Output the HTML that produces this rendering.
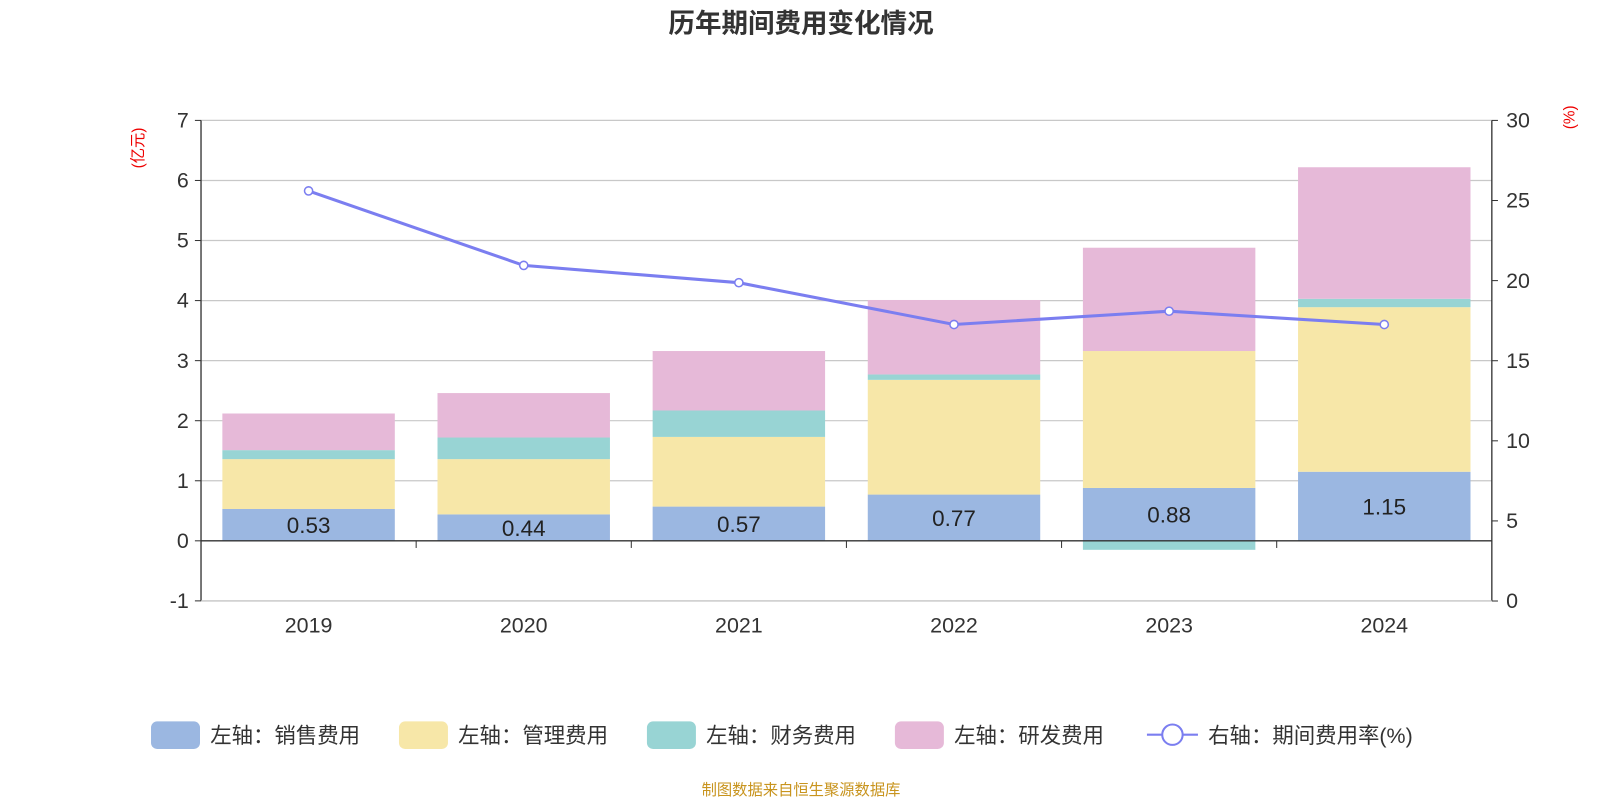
<!DOCTYPE html>
<html><head><meta charset="utf-8"><style>
body{margin:0;background:#fff;font-family:"Liberation Sans","Noto Sans CJK SC",sans-serif;}
svg{display:block;}
svg text{font-family:"Liberation Sans","Noto Sans CJK SC",sans-serif;}
</style></head><body>
<svg id="chart" width="1600" height="800" viewBox="0 0 1568 784" xmlns="http://www.w3.org/2000/svg">
<text x="785" y="32" text-anchor="middle" font-size="26" font-weight="bold" fill="#333">历年期间费用变化情况</text>
<text transform="translate(140,145) rotate(-90)" text-anchor="middle" font-size="15" fill="#e00">(亿元)</text>
<text transform="translate(1543,115) rotate(-90)" text-anchor="middle" font-size="15" fill="#e00">(%)</text>
<g id="grid"></g><g id="bars"></g><g id="axes"></g><g id="line"></g>
<g font-size="21" fill="#333">
<rect x="148" y="707" width="48" height="27" rx="6" fill="#9bb7e1"/><text x="206" y="728">左轴：销售费用</text>
<rect x="391" y="707" width="48" height="27" rx="6" fill="#f7e7a8"/><text x="449" y="728">左轴：管理费用</text>
<rect x="634" y="707" width="48" height="27" rx="6" fill="#98d4d4"/><text x="692" y="728">左轴：财务费用</text>
<rect x="877" y="707" width="48" height="27" rx="6" fill="#e6b9d8"/><text x="935" y="728">左轴：研发费用</text>
<line x1="1124" y1="720" x2="1174" y2="720" stroke="#7b7ef0" stroke-width="2"/><circle cx="1149" cy="720" r="10" fill="#fff" stroke="#7b7ef0" stroke-width="2"/><text x="1184" y="728">右轴：期间费用率(%)</text>
</g>
<text x="785" y="779" text-anchor="middle" font-size="15" fill="#c8941e">制图数据来自恒生聚源数据库</text>
</svg>
<script>
const years=["2019","2020","2021","2022","2023","2024"];
const sales=[0.53,0.44,0.57,0.77,0.88,1.15];
const admin=[0.83,0.92,1.16,1.91,2.28,2.74];
const finance=[0.15,0.36,0.44,0.09,-0.15,0.14];
const rd=[0.61,0.74,0.99,1.24,1.72,2.19];
const rate=[25.6,20.95,19.87,17.26,18.09,17.26];
const leftTicks=[-1,0,1,2,3,4,5,6,7];
const rightTicks=[0,5,10,15,20,25,30];
const NS="http://www.w3.org/2000/svg";
const X0=197,X1=1462,YT=118,YB=589;
const yL=v=>530-(v)*(530-YT)/7;
const yR=v=>YB-v*(YB-YT)/30;
const cw=(X1-X0)/years.length;
const xc=i=>X0+cw*(i+0.5);
function mk(tag,attrs,parent){const e=document.createElementNS(NS,tag);for(const k in attrs)e.setAttribute(k,attrs[k]);document.getElementById(parent).appendChild(e);return e;}
leftTicks.forEach(t=>{
 if(t!==0){const g=mk('line',{x1:X0,x2:X1,y1:yL(t),y2:yL(t),stroke:'#c8c8c8','stroke-width':1.2},'grid');
 
 }
 const tk=mk('line',{x1:X0-6,x2:X0,y1:yL(t),y2:yL(t),stroke:'#333'},'axes');
 
 
 const tx=mk('text',{x:X0-12,y:yL(t)+7,'text-anchor':'end','font-size':21,fill:'#333'},'axes');tx.textContent=t;
 
 
});
rightTicks.forEach(t=>{
 const tk=mk('line',{x1:X1,x2:X1+6,y1:yR(t),y2:yR(t),stroke:'#333'},'axes');
 
 
 const tx=mk('text',{x:X1+14,y:yR(t)+7,'font-size':21,fill:'#333'},'axes');tx.textContent=t;
 
 
});
const bw=169;
const series=[[sales,'#9bb7e1','sales'],[admin,'#f7e7a8','admin'],[finance,'#98d4d4','finance'],[rd,'#e6b9d8','rd']];
years.forEach((yr,i)=>{
 let pos=0,neg=0;
 series.forEach(([arr,col,nm])=>{
  const v=arr[i];let a,b;
  if(v>=0){a=pos;b=pos+v;pos=b;}else{a=neg;b=neg+v;neg=b;}
  const r=mk('rect',{x:xc(i)-bw/2,y:Math.min(yL(a),yL(b)),width:bw,height:Math.abs(yL(a)-yL(b)),fill:col},'bars');
  
  
 });
 const lb=mk('text',{x:xc(i),y:yL(sales[i]/2)+8,'text-anchor':'middle','font-size':22,fill:'#222'},'bars');lb.textContent=sales[i].toFixed(2);
 
 
 const xl=mk('text',{x:xc(i),y:620,'text-anchor':'middle','font-size':21,fill:'#333'},'axes');xl.textContent=yr;
 
 
});
for(let i=1;i<years.length;i++){const t=mk('line',{x1:X0+cw*i,x2:X0+cw*i,y1:530,y2:537,stroke:'#333'},'axes');
 
 }
const ax=[[X0,YT,X0,YB,'left-axis'],[X1,YT,X1,YB,'right-axis'],[X0,530,X1,530,'x-axis'],[X0,YB,X1,YB,'bottom-line']];
ax.forEach(([a,b,c,d,n])=>{const l=mk('line',{x1:a,y1:b,x2:c,y2:d,stroke:n==='bottom-line'?'#c8c8c8':'#333','stroke-width':1.3},'axes');
 
 });
const pl=mk('polyline',{points:rate.map((v,i)=>xc(i)+','+yR(v)).join(' '),fill:'none',stroke:'#7b7ef0','stroke-width':3},'line');


rate.forEach((v,i)=>{const c=mk('circle',{cx:xc(i),cy:yR(v),r:4,fill:'#fff',stroke:'#7b7ef0','stroke-width':1.5},'line');
 
 });
</script>
</body></html>
